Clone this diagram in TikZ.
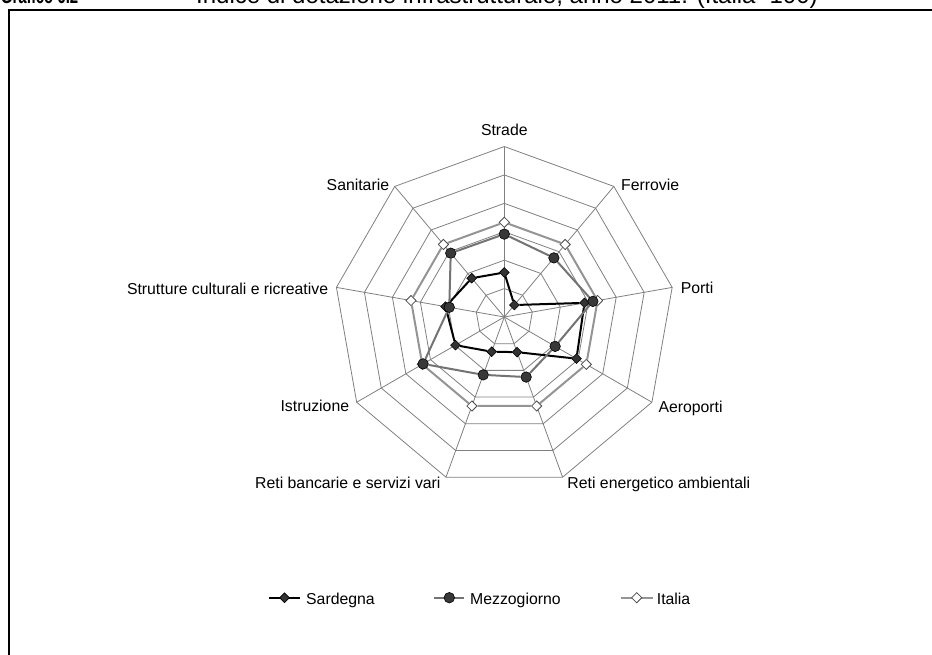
\documentclass[tikz,border=0pt]{standalone}
\usepackage{fontspec}
\setmainfont{Liberation Sans}
\usetikzlibrary{shapes.geometric}

\tikzset{
	webline/.style={draw=black!50,line width=0.8pt},
	axislabel/.style={inner sep=0pt,font=\fontsize{15.8}{18}\selectfont},
	sardline/.style={draw=black,line width=2pt},
	mezzline/.style={draw=black!55,line width=2pt},
	italline/.style={draw=black!42,line width=2pt},
	sardmark/.style={draw=black,fill=black!80,shape=diamond,inner sep=0pt,minimum size=10pt,line width=0.6pt},
	mezzmark/.style={draw=black,fill=black!78,shape=circle,inner sep=0pt,minimum size=10.5pt,line width=0.6pt},
	italmark/.style={draw=black!70,fill=white,shape=diamond,inner sep=0pt,minimum size=10.5pt,line width=0.8pt}
}

\begin{document}
\begin{tikzpicture}[x=1pt,y=1pt]
	\useasboundingbox (-504.3,-337) rectangle (427.7,317);
	% frame and title
	\draw[line width=2pt] (-495.3,307) rectangle (445.7,-353);
	\node[anchor=base west,inner sep=0pt,xscale=0.68,transform shape,font=\bfseries\fontsize{22}{26}\selectfont] (gnum) at (-503.5,313) {Grafico 6.2};
	\node[anchor=base west,inner sep=0pt,font=\fontsize{24}{28}\selectfont] (gtitle) at (-308.3,313) {Indice di dotazione infrastrutturale, anno 2011. (Italia=100)};

	\begin{scope}[x=0.947pt,y=0.947pt]
		% web
		\draw[webline] (90:30) -- (50:30) -- (10:30) -- (-30:30) -- (-70:30) -- (-110:30) -- (-150:30) -- (170:30) -- (130:30) -- cycle;
		\draw[webline] (90:60) -- (50:60) -- (10:60) -- (-30:60) -- (-70:60) -- (-110:60) -- (-150:60) -- (170:60) -- (130:60) -- cycle;
		\draw[webline] (90:90) -- (50:90) -- (10:90) -- (-30:90) -- (-70:90) -- (-110:90) -- (-150:90) -- (170:90) -- (130:90) -- cycle;
		\draw[webline] (90:120) -- (50:120) -- (10:120) -- (-30:120) -- (-70:120) -- (-110:120) -- (-150:120) -- (170:120) -- (130:120) -- cycle;
		\draw[webline] (90:150) -- (50:150) -- (10:150) -- (-30:150) -- (-70:150) -- (-110:150) -- (-150:150) -- (170:150) -- (130:150) -- cycle;
		\draw[webline] (90:180) -- (50:180) -- (10:180) -- (-30:180) -- (-70:180) -- (-110:180) -- (-150:180) -- (170:180) -- (130:180) -- cycle;
		\draw[webline] (0,0) -- (90:180);
		\draw[webline] (0,0) -- (50:180);
		\draw[webline] (0,0) -- (10:180);
		\draw[webline] (0,0) -- (-30:180);
		\draw[webline] (0,0) -- (-70:180);
		\draw[webline] (0,0) -- (-110:180);
		\draw[webline] (0,0) -- (-150:180);
		\draw[webline] (0,0) -- (170:180);
		\draw[webline] (0,0) -- (130:180);

		% Italia
		\path (90:100)   node[italmark] (it1) {};
		\path (50:100)   node[italmark] (it2) {};
		\path (10:100)   node[italmark] (it3) {};
		\path (-30:100)  node[italmark] (it4) {};
		\path (-70:100)  node[italmark] (it5) {};
		\path (-110:100) node[italmark] (it6) {};
		\path (-150:100) node[italmark] (it7) {};
		\path (170:100)  node[italmark] (it8) {};
		\path (130:100)  node[italmark] (it9) {};
		\draw[italline] (it1) -- (it2) -- (it3) -- (it4) -- (it5) -- (it6) -- (it7) -- (it8) -- (it9) -- (it1);

		% Sardegna
		\path (90:47)    node[sardmark] (sa1) {};
		\path (50:16.5)  node[sardmark] (sa2) {};
		\path (10:86)    node[sardmark] (sa3) {};
		\path (-30:88)   node[sardmark] (sa4) {};
		\path (-70:39.5) node[sardmark] (sa5) {};
		\path (-110:39)  node[sardmark] (sa6) {};
		\path (-150:59.5) node[sardmark] (sa7) {};
		\path (170:63)   node[sardmark] (sa8) {};
		\path (130:53.5) node[sardmark] (sa9) {};
		\draw[sardline] (sa1) -- (sa2) -- (sa3) -- (sa4) -- (sa5) -- (sa6) -- (sa7) -- (sa8) -- (sa9) -- (sa1);

		% Mezzogiorno
		\path (90:87.5)  node[mezzmark] (me1) {};
		\path (50:81.5)  node[mezzmark] (me2) {};
		\path (10:95)    node[mezzmark] (me3) {};
		\path (-30:62)   node[mezzmark] (me4) {};
		\path (-70:67.5) node[mezzmark] (me5) {};
		\path (-110:65)  node[mezzmark] (me6) {};
		\path (-150:99)  node[mezzmark] (me7) {};
		\path (170:59)   node[mezzmark] (me8) {};
		\path (130:88)   node[mezzmark] (me9) {};
		\draw[mezzline] (me1) -- (me2) -- (me3) -- (me4) -- (me5) -- (me6) -- (me7) -- (me8) -- (me9) -- (me1);
	\end{scope}

	% axis labels
	\node[axislabel,anchor=base]      (lstrade)  at (0,181.3)       {Strade};
	\node[axislabel,anchor=base west] (lferro)   at (116.7,127)     {Ferrovie};
	\node[axislabel,anchor=base west] (lporti)   at (176.4,23.7)    {Porti};
	\node[axislabel,anchor=base west] (laero)    at (154,-95.7)     {Aeroporti};
	\node[axislabel,anchor=base west] (lenerg)   at (63,-171.3)     {Reti energetico ambientali};
	\node[axislabel,anchor=base east] (lbanc)    at (-63.6,-171.3)  {Reti bancarie e servizi vari};
	\node[axislabel,anchor=base east] (listr)    at (-155,-94.7)    {Istruzione};
	\node[axislabel,anchor=base east] (lcult)    at (-176,23)       {Strutture culturali e ricreative};
	\node[axislabel,anchor=base east] (lsanit)   at (-115,127)      {Sanitarie};

	% legend
	\coordinate (lsa1) at (-235.3,-280.7);
	\coordinate (lsa2) at (-204.3,-280.7);
	\draw[sardline] (lsa1) -- (lsa2);
	\node[sardmark] (lsam) at (-219.8,-280.7) {};
	\node[axislabel,anchor=base west] (lsat) at (-198.3,-287) {Sardegna};

	\coordinate (lme1) at (-70,-280.7);
	\coordinate (lme2) at (-40,-280.7);
	\draw[mezzline] (lme1) -- (lme2);
	\node[mezzmark] (lmem) at (-55,-280.7) {};
	\node[axislabel,anchor=base west] (lmet) at (-34.3,-287) {Mezzogiorno};

	\coordinate (lit1) at (116.4,-280.7);
	\coordinate (lit2) at (149,-280.7);
	\draw[italline] (lit1) -- (lit2);
	\node[italmark] (litm) at (132.4,-280.7) {};
	\node[axislabel,anchor=base west] (litt) at (152.4,-287) {Italia};
\end{tikzpicture}
\end{document}
